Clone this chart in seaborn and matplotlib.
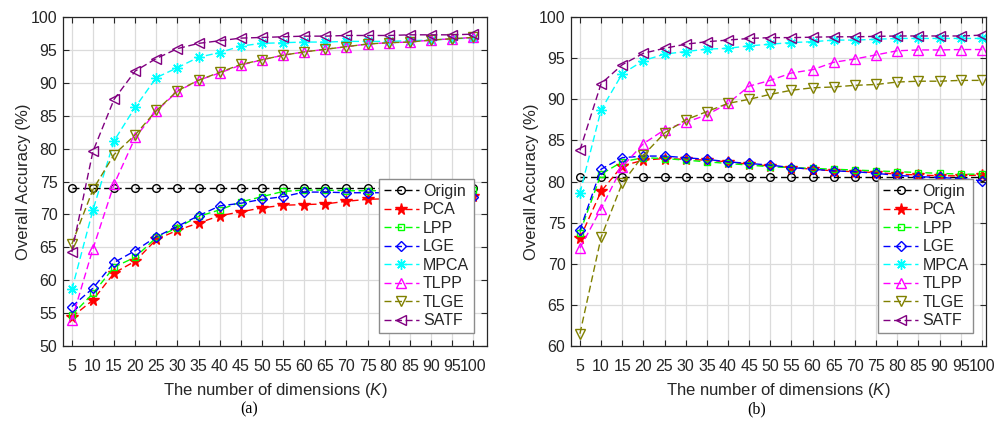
import numpy as np
import pandas as pd
import matplotlib
matplotlib.use("Agg")
import matplotlib.pyplot as plt
import seaborn as sns

# Reduced dimension K
dims = [5, 10, 15, 20, 25, 30, 35, 40, 45, 50, 55, 60, 65, 70, 75, 80, 85, 90, 95, 100]
methods = ["Origin", "PCA", "LPP", "LGE", "MPCA", "TLPP", "TLGE", "SATF"]

# Overall accuracy (%) -- dataset (a)
origin_a = [74.0] * 20
pca_a = [54.4, 57.0, 61.1, 62.9, 66.2, 67.6, 68.7, 69.8, 70.4, 71.0, 71.4, 71.5, 71.6, 72.0, 72.3, 72.4, 72.5, 72.6, 72.7, 72.8]
lpp_a = [54.7, 58.0, 62.0, 63.5, 66.5, 68.0, 69.7, 70.7, 71.9, 72.7, 73.5, 73.7, 73.7, 73.6, 73.6, 73.6, 73.6, 73.7, 73.7, 73.7]
lge_a = [56.0, 58.8, 62.7, 64.5, 66.6, 68.2, 69.8, 71.3, 71.7, 72.3, 72.7, 73.4, 73.4, 73.3, 73.3, 73.3, 73.3, 73.2, 73.1, 72.7]
mpca_a = [58.6, 70.7, 81.2, 86.3, 90.8, 92.3, 93.9, 94.6, 95.6, 96.0, 96.1, 96.2, 96.2, 96.3, 96.3, 96.3, 96.4, 96.5, 96.7, 96.8]
tlpp_a = [54.0, 64.8, 74.6, 81.7, 85.7, 88.7, 90.4, 91.5, 92.7, 93.5, 94.2, 94.7, 95.1, 95.5, 95.9, 96.1, 96.2, 96.5, 96.7, 96.9]
tlge_a = [65.5, 73.8, 79.1, 82.1, 85.8, 88.8, 90.4, 91.6, 92.8, 93.5, 94.2, 94.7, 95.1, 95.5, 95.9, 96.1, 96.2, 96.5, 96.7, 96.9]
satf_a = [64.3, 79.6, 87.5, 91.8, 93.7, 95.2, 96.0, 96.4, 96.8, 96.9, 97.0, 97.1, 97.1, 97.2, 97.2, 97.2, 97.3, 97.3, 97.3, 97.4]

# Overall accuracy (%) -- dataset (b)
origin_b = [80.6] * 20
pca_b = [73.1, 78.8, 81.9, 82.6, 82.8, 82.7, 82.6, 82.4, 82.1, 81.9, 81.7, 81.5, 81.3, 81.2, 81.1, 80.9, 80.8, 80.7, 80.7, 80.8]
lpp_b = [73.8, 80.9, 82.4, 82.9, 82.8, 82.6, 82.4, 82.2, 82.0, 81.8, 81.7, 81.6, 81.5, 81.4, 81.3, 81.2, 81.1, 81.0, 80.9, 80.9]
lge_b = [74.1, 81.5, 82.9, 83.1, 83.1, 82.9, 82.7, 82.4, 82.2, 82.0, 81.7, 81.5, 81.3, 81.2, 81.0, 80.75, 80.6, 80.5, 80.35, 80.1]
mpca_b = [78.6, 88.7, 93.1, 94.7, 95.5, 95.8, 96.1, 96.2, 96.5, 96.7, 96.9, 97.0, 97.2, 97.2, 97.3, 97.4, 97.4, 97.4, 97.4, 97.4]
tlpp_b = [71.9, 76.7, 81.8, 84.6, 86.3, 87.2, 88.1, 89.5, 91.6, 92.3, 93.2, 93.6, 94.5, 94.9, 95.4, 95.9, 96.0, 96.0, 96.05, 96.05]
tlge_b = [61.5, 73.2, 79.8, 83.2, 85.9, 87.5, 88.5, 89.5, 90.0, 90.6, 91.1, 91.4, 91.5, 91.7, 91.8, 92.1, 92.2, 92.2, 92.3, 92.3]
satf_b = [83.8, 91.9, 94.2, 95.6, 96.2, 96.7, 97.0, 97.2, 97.4, 97.5, 97.5, 97.55, 97.6, 97.6, 97.65, 97.7, 97.7, 97.7, 97.7, 97.8]

series_a = [origin_a, pca_a, lpp_a, lge_a, mpca_a, tlpp_a, tlge_a, satf_a]
series_b = [origin_b, pca_b, lpp_b, lge_b, mpca_b, tlpp_b, tlge_b, satf_b]

sns.set_theme(style="ticks")
plt.rcParams["font.family"] = ["Liberation Sans", "DejaVu Sans"]
plt.rcParams["mathtext.fontset"] = "custom"
plt.rcParams["mathtext.it"] = "Liberation Sans:italic"
plt.rcParams["mathtext.rm"] = "Liberation Sans"

styles = {
    "Origin": dict(color="black", marker="o", ms=5.5, mfc="none"),
    "PCA": dict(color="red", marker="*", ms=8.5, mfc="red"),
    "LPP": dict(color=(0, 1, 0), marker="s", ms=4.5, mfc="none"),
    "LGE": dict(color="blue", marker="D", ms=5.0, mfc="none"),
    "MPCA": dict(color=(0, 1, 1), marker=(8, 2, 0), ms=7.5, mfc="none"),
    "TLPP": dict(color=(1, 0, 1), marker="^", ms=7.0, mfc="none"),
    "TLGE": dict(color=(0.5, 0.5, 0), marker="v", ms=7.0, mfc="none"),
    "SATF": dict(color=(0.5, 0, 0.5), marker="<", ms=7.0, mfc="none"),
}

ink = (0.15, 0.15, 0.15)
fig = plt.figure(figsize=(9.95, 4.21), dpi=100)
ax_a = fig.add_axes([0.0633, 0.178, 0.4258, 0.7815])
ax_b = fig.add_axes([0.5739, 0.178, 0.4171, 0.7815])


def draw(ax, series, ylim, xlim):
    for name, vals in zip(methods, series):
        df = pd.DataFrame({"K": dims, "acc": vals})
        st = styles[name]
        sns.lineplot(data=df, x="K", y="acc", ax=ax, color=st["color"],
                     marker=st["marker"], markersize=st["ms"],
                     markerfacecolor=st["mfc"], markeredgecolor=st["color"],
                     markeredgewidth=1.0, linewidth=1.0,
                     linestyle=(0, (5, 2.6)), label=name)
    ax.set_xlim(*xlim)
    ax.set_ylim(*ylim)
    ax.set_xticks(dims)
    ax.set_yticks(np.arange(ylim[0], ylim[1] + 1, 5))
    ax.grid(True, color=(0.86, 0.86, 0.86), linewidth=0.9)
    ax.set_axisbelow(True)
    ax.tick_params(direction="in", length=4, width=0.8, top=True, right=True,
                   labelsize=11.5, colors=ink)
    ax.tick_params(axis="x", pad=9)
    ax.tick_params(axis="y", pad=4)
    for sp in ax.spines.values():
        sp.set_visible(True)
        sp.set_color(ink)
        sp.set_linewidth(0.9)
    ax.set_xlabel(r"The number of dimensions ($\mathit{K}$)", fontsize=12, color=ink, labelpad=5)
    ax.set_ylabel("Overall Accuracy (%)", fontsize=12, color=ink, labelpad=0)
    leg = ax.legend(loc="lower right", fontsize=11.5, handlelength=2.2,
                    handletextpad=0.25, labelspacing=0.22, borderpad=0.3,
                    borderaxespad=0.8, fancybox=False, framealpha=1)
    leg.get_frame().set_edgecolor((0.55, 0.55, 0.55))
    leg.get_frame().set_linewidth(1.0)
    for t in leg.get_texts():
        t.set_color(ink)


draw(ax_a, series_a, (50, 100), (2.9, 103.2))
draw(ax_b, series_b, (60, 100), (2.9, 101.0))

fig.text(249 / 995, 1 - 409 / 421, "(a)", ha="center", va="center",
         fontsize=11.5, family=["Liberation Serif", "DejaVu Serif"], color="black")
fig.text(757 / 995, 1 - 409 / 421, "(b)", ha="center", va="center",
         fontsize=11.5, family=["Liberation Serif", "DejaVu Serif"], color="black")

fig.savefig("out.png", dpi=100, facecolor="white")
